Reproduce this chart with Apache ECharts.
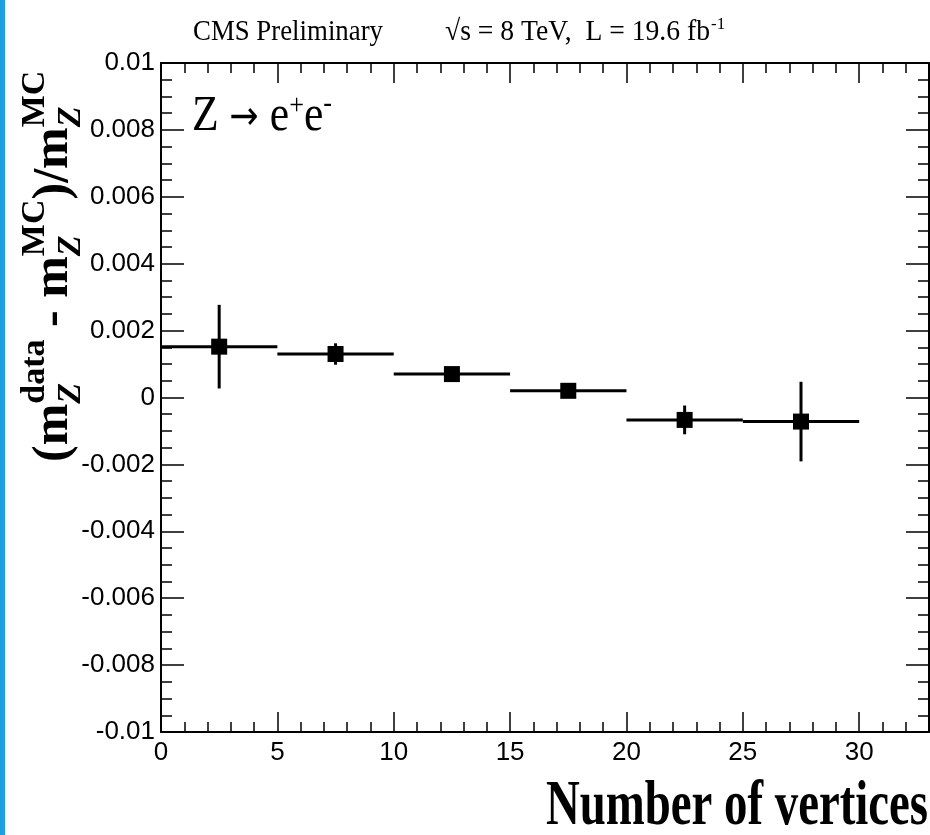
<!DOCTYPE html>
<html><head><meta charset="utf-8">
<script src="https://cdn.jsdelivr.net/npm/echarts@6/dist/echarts.min.js"></script>
<style>html,body{margin:0;padding:0;background:#fff}#c{width:930px;height:835px}</style>
</head><body><div id="c"></div>
<script>
// ---- data ----
const binCenters    = [2.5, 7.5, 12.5, 17.5, 22.5, 27.5];
const binHalfWidths = [2.5, 2.5, 2.5, 2.5, 2.5, 2.5];
const shiftValues   = [0.00152, 0.00130, 0.00070, 0.00020, -0.00067, -0.00072];
const shiftErrors   = [0.00125, 0.00032, 0.00012, 0.00012, 0.00043, 0.00119];
const xTickLabels   = ['0', '5', '10', '15', '20', '25', '30'];
const yTickLabels   = ['-0.01', '-0.008', '-0.006', '-0.004', '-0.002', '0', '0.002', '0.004', '0.006', '0.008', '0.01'];

const chart = echarts.init(document.getElementById('c'));
const mctx = document.createElement('canvas').getContext('2d');
function tw(t, font) { mctx.font = font; return mctx.measureText(t).width; }
const SERIF = "'Liberation Serif','Times New Roman',Times,serif";
const SANS = "'Liberation Sans',Arial,Helvetica,sans-serif";
const ARROWF = "'DejaVu Sans',sans-serif";

function txt(t, x, baseY, size, opts) {
  opts = opts || {};
  return {
    type: 'text', x: x, y: baseY - 0.32 * size,
    style: {
      text: t, fill: '#000', fontSize: size, fontFamily: opts.family || SERIF,
      fontWeight: opts.bold ? 'bold' : 'normal', fontStyle: opts.italic ? 'italic' : 'normal',
      textAlign: 'left', textVerticalAlign: 'middle'
    }
  };
}
function fnt(size, bold, italic, family) { return (italic ? 'italic ' : '') + (bold ? 'bold ' : '') + size + 'px ' + (family || SERIF); }

// ---- rotated y-axis title ----
const M = 50, S = 34;
const yTitle = [];
let lx = 0;
function addMain(t) { yTitle.push(txt(t, lx, 0, M, {bold: true})); lx += tw(t, fnt(M, true)); }
function addStack(sub, sup) {
  yTitle.push(txt(sub, lx, 12, S, {bold: true, italic: true}));
  yTitle.push(txt(sup, lx, -24, S, {bold: true}));
  lx += Math.max(tw(sub, fnt(S, true, true)), tw(sup, fnt(S, true)));
}
addMain('(m'); addStack('Z', 'data'); addMain(' - m'); addStack('Z', 'MC'); addMain(')/m'); addStack('Z', 'MC');

// ---- header / annotation texts ----
function fitted(t, x, baseY, size, width, opts) {
  const o = txt(t, 0, 0, size, opts);
  const w = tw(t, fnt(size, opts && opts.bold, opts && opts.italic));
  return {type: 'group', x: x, y: baseY, scaleX: width / w, children: [o]};
}

const zParts = [];
let zx = 0;
[['Z ', 50, 0, SERIF], ['\u2192', 40, -2, ARROWF], [' e', 50, 0, SERIF], ['+', 30, -17, SERIF],
 ['e', 50, 0, SERIF], ['-', 30, -19, SERIF]].forEach(p => {
  zParts.push(txt(p[0], zx, p[2], p[1], {family: p[3]}));
  zx += tw(p[0], fnt(p[1], false, false, p[3]));
});

const tickStyle = {color: '#000', width: 1.5};
function xAx(pos, interval, len, line, label) {
  return {type: 'value', position: pos, min: 0, max: 33, interval: interval,
    axisLine: {show: line, onZero: false, lineStyle: {color: '#000', width: 2}},
    axisTick: {show: true, inside: true, length: len, lineStyle: tickStyle},
    axisLabel: label ? {show: true, showMaxLabel: false, margin: 8, color: '#000', fontSize: 26, fontFamily: SANS,
                        formatter: v => xTickLabels[Math.round(v / 5)] || ''} : {show: false},
    splitLine: {show: false}};
}
function yAx(pos, label) {
  return {type: 'value', position: pos, min: -0.01, max: 0.01, interval: 0.002,
    axisLine: {show: true, onZero: false, lineStyle: {color: '#000', width: 2}},
    axisTick: {show: true, inside: true, length: 23, lineStyle: tickStyle},
    minorTick: {show: true, splitNumber: 4, length: 11, lineStyle: tickStyle},
    axisLabel: label ? {show: true, margin: 6, color: '#000', fontSize: 26, fontFamily: SANS,
                        formatter: v => yTickLabels[Math.round(v / 0.002) + 5]} : {show: false},
    splitLine: {show: false}};
}

const option = {
  backgroundColor: '#fff',
  animation: false,
  grid: {left: 161, top: 63, width: 768, height: 669},
  xAxis: [xAx('bottom', 5, 20, true, true), xAx('bottom', 1, 10, false, false),
          xAx('top', 5, 20, true, false), xAx('top', 1, 10, false, false)],
  yAxis: [yAx('left', true), yAx('right', false)],
  series: [
    {type: 'custom', xAxisIndex: 0, yAxisIndex: 0,
     encode: {x: 0, y: 1},
     data: binCenters.map((c, i) => [c, shiftValues[i], binHalfWidths[i], shiftErrors[i]]),
     renderItem: function (params, api) {
       const x = api.value(0), y = api.value(1), hw = api.value(2), e = api.value(3);
       const pL = api.coord([x - hw, y]), pR = api.coord([x + hw, y]);
       const pT = api.coord([x, y + e]), pB = api.coord([x, y - e]);
       return {type: 'group', children: [
         {type: 'line', shape: {x1: pL[0], y1: pL[1], x2: pR[0], y2: pR[1]}, style: {stroke: '#000', lineWidth: 3}},
         {type: 'line', shape: {x1: pT[0], y1: pT[1], x2: pB[0], y2: pB[1]}, style: {stroke: '#000', lineWidth: 3}}
       ]};
     }},
    {type: 'scatter', xAxisIndex: 0, yAxisIndex: 0, symbol: 'rect', symbolSize: 16,
     itemStyle: {color: '#000', opacity: 1},
     data: binCenters.map((c, i) => [c, shiftValues[i]])}
  ],
  graphic: [
    {type: 'rect', left: 0, top: 0, shape: {width: 5, height: 835}, style: {fill: '#1E9FE2'}},
    {type: 'group', x: 70, y: 462, rotation: Math.PI / 2, children: yTitle},
    fitted('CMS Preliminary', 193, 42, 29, 190),
    fitted('\u221As = 8 TeV,  L = 19.6 fb', 445, 42, 29, 265),
    txt('-1', 711, 30, 17),
    {type: 'group', x: 192, y: 133, scaleX: 140 / zx, children: zParts},
    fitted('Number of vertices', 546, 828, 64, 382, {bold: true})
  ]
};
chart.setOption(option);
</script>
</body></html>
